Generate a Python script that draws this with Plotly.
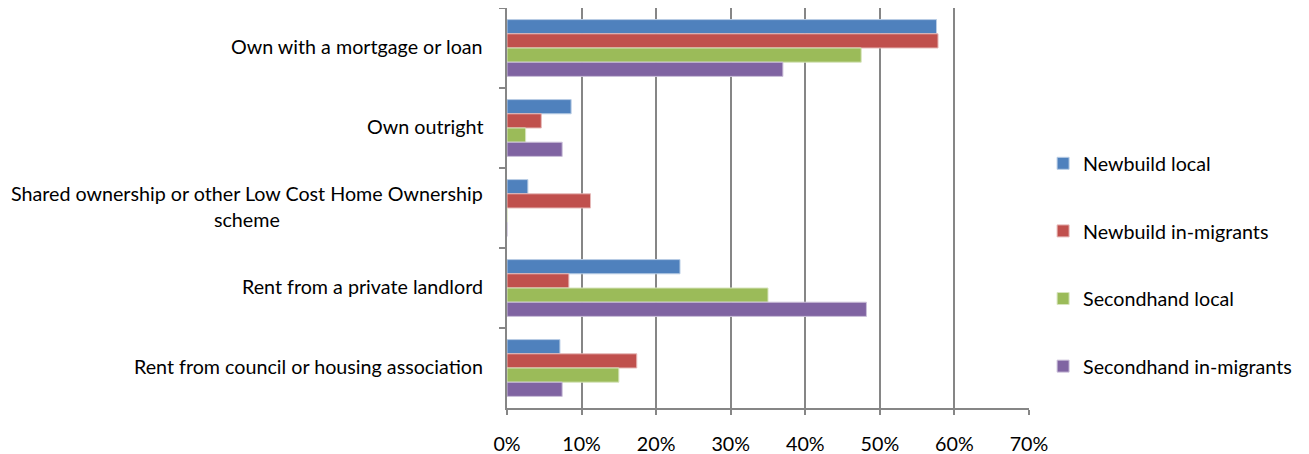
import plotly.graph_objects as go

categories = [
    "Own with a mortgage or loan",
    "Own outright",
    "Shared ownership or other Low Cost Home Ownership<br>scheme",
    "Rent from a private landlord",
    "Rent from council or housing association",
]
series_names = ["Newbuild local", "Newbuild in-migrants", "Secondhand local", "Secondhand in-migrants"]
newbuild_local = [57.6, 8.6, 2.8, 23.2, 7.1]
newbuild_inmig = [57.8, 4.6, 11.2, 8.3, 17.4]
secondhand_local = [47.5, 2.5, 0, 35.0, 15.0]
secondhand_inmig = [37.0, 7.4, 0, 48.2, 7.4]
x_ticks = [0, 10, 20, 30, 40, 50, 60, 70]
x_tick_labels = ["0%", "10%", "20%", "30%", "40%", "50%", "60%", "70%"]

colors = ["#4F81BD", "#C0504D", "#9BBB59", "#8064A2"]
edge = ["#B9CDE5", "#E6B9B8", "#D7E4BD", "#CCC1DA"]
values = [newbuild_local, newbuild_inmig, secondhand_local, secondhand_inmig]

FONT = "Lato"
FS = 19.7
fig = go.Figure()
for i, (name, vals) in enumerate(zip(series_names, values)):
    fig.add_trace(go.Bar(
        y=categories, x=vals, name=name, orientation="h",
        marker=dict(color=colors[i], line=dict(color=edge[i], width=1)),
        legendgroup=name,
    ))

for c in categories:
    fig.add_annotation(
        x=0, xref="paper", xanchor="right", xshift=-22, yshift=2,
        y=c, yref="y", yanchor="middle",
        text=c, showarrow=False, align="center",
        font=dict(family=FONT, size=FS, color="#000000"),
    )

fig.update_layout(
    width=1301, height=446,
    margin=dict(l=499, r=280, t=0, b=46),
    plot_bgcolor="white", paper_bgcolor="white",
    barmode="group", bargap=0.29, bargroupgap=0,
    font=dict(family=FONT, size=FS, color="#000000"),
    showlegend=True,
    legend=dict(
        x=1.027, y=0.66, xanchor="left", yanchor="top",
        traceorder="grouped", tracegroupgap=39,
        font=dict(family=FONT, size=FS, color="#000000"),
        bgcolor="rgba(0,0,0,0)",
    ),
    xaxis=dict(
        range=[0, 70], tickvals=x_ticks, ticktext=x_tick_labels,
        showgrid=True, gridcolor="#868686", gridwidth=2,
        showline=True, linecolor="#868686", linewidth=2,
        ticks="outside", ticklen=5, tickcolor="#868686", tickwidth=2,
        ticklabelstandoff=12, zeroline=False, automargin=False,
        tickfont=dict(family=FONT, size=FS),
    ),
    yaxis=dict(
        autorange="reversed", showticklabels=False, automargin=False,
        showline=True, linecolor="#868686", linewidth=2,
        ticks="outside", ticklen=6, tickcolor="#868686", tickwidth=2,
        tickson="boundaries", showgrid=False,
    ),
)

fig.write_html("out.html")
